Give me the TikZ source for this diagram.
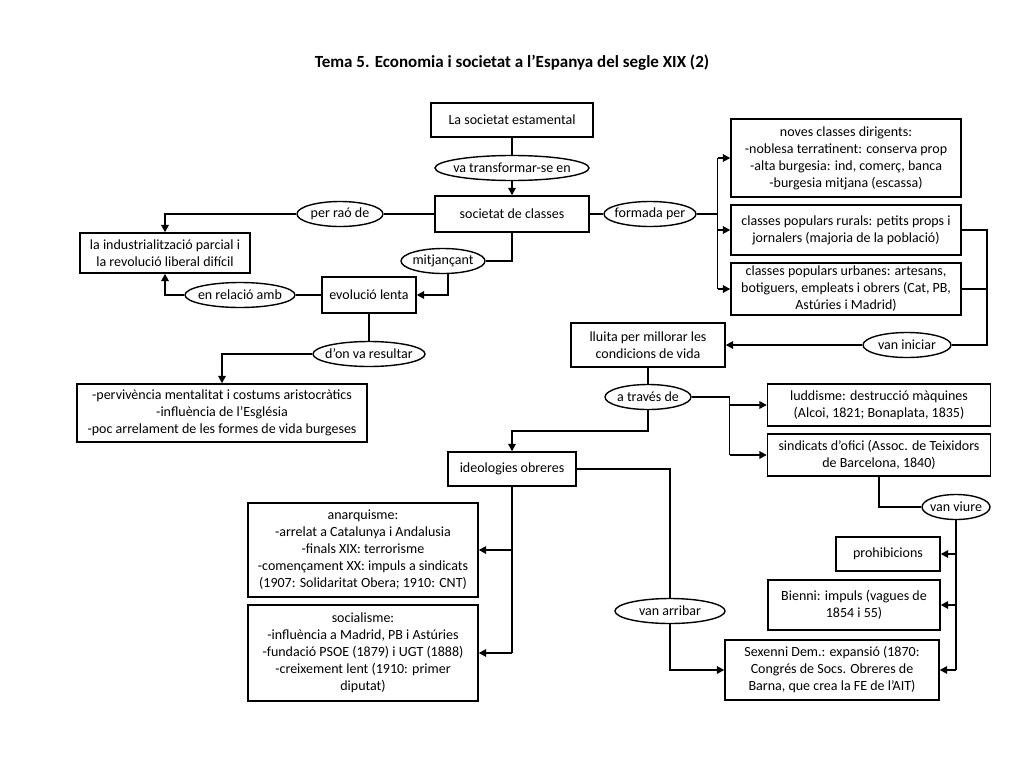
\documentclass[tikz,border=0pt]{standalone}
\usepackage{fontspec}
\setmainfont{Carlito}
\usetikzlibrary{shapes.geometric,arrows.meta}

\tikzset{
  box/.style={draw, line width=1.4pt, align=center, inner sep=2pt, font=\fontsize{14}{17}\selectfont},
  oval/.style={draw, ellipse, line width=1.4pt, inner xsep=-15pt, inner ysep=-3pt, minimum height=25pt, font=\fontsize{14}{17}\selectfont},
  link/.style={line width=1.4pt},
  arr/.style={line width=1.8pt, -{Triangle[length=7.5pt,width=7.5pt]}}
}

\begin{document}
\begin{tikzpicture}[x=1pt,y=-1pt]
\useasboundingbox (0,0) rectangle (1024,768);
\node[font=\fontsize{17}{20}\selectfont\bfseries] (title) at (512,63) {Tema 5. Economia i societat a l’Espanya del segle XIX (2)};

% left half
\node[box, minimum width=162pt, minimum height=34pt] (estamental) at (512,120) {La societat estamental};
\node[oval, minimum width=154pt] (transf) at (512,168) {va transformar-se en};
\node[box, minimum width=154pt, minimum height=36pt] (classes) at (512,214) {societat de classes};
\node[oval, minimum width=86pt] (perrao) at (340,214) {per raó de};
\node[box, minimum width=170pt, minimum height=40pt] (industria) at (165,253) {la industrialització parcial i\\la revolució liberal difícil};
\node[oval, minimum width=84pt] (mitjancant) at (443,261) {mitjançant};
\node[box, minimum width=94pt, minimum height=36pt] (evolucio) at (369,295) {evolució lenta};
\node[oval, minimum width=110pt] (relacio) at (240,295) {en relació amb};
\node[oval, minimum width=112pt] (donva) at (369,354) {d’on va resultar};
\node[box, minimum width=290pt, minimum height=58pt] (pervivencia) at (222,413) {-pervivència mentalitat i costums aristocràtics\\-influència de l’Església\\-poc arrelament de les formes de vida burgeses};

% right half
\node[oval, minimum width=92pt] (formada) at (650,214) {formada per};
\node[box, minimum width=230pt, minimum height=78pt] (noves) at (846,158) {noves classes dirigents:\\-noblesa terratinent: conserva prop\\-alta burgesia: ind, comerç, banca\\-burgesia mitjana (escassa)};
\node[box, minimum width=230pt, minimum height=50pt] (rurals) at (846,230) {classes populars rurals: petits props i\\jornalers (majoria de la població)};
\node[box, minimum width=230pt, minimum height=52pt] (urbanes) at (846,289) {classes populars urbanes: artesans,\\botiguers, empleats i obrers (Cat, PB,\\Astúries i Madrid)};
\node[oval, minimum width=88pt] (iniciar) at (907,345) {van iniciar};
\node[box, minimum width=154pt, minimum height=44pt] (lluita) at (648,345) {lluita per millorar les\\condicions de vida};
\node[oval, minimum width=86pt] (traves) at (648,397) {a través de};
\node[box, minimum width=223pt, minimum height=42pt] (luddisme) at (879,405) {luddisme: destrucció màquines\\(Alcoi, 1821; Bonaplata, 1835)};
\node[box, minimum width=223pt, minimum height=42pt] (sindicats) at (879,455) {sindicats d’ofici (Assoc. de Teixidors\\de Barcelona, 1840)};
\node[oval, minimum width=68pt] (viure) at (956,507) {van viure};
\node[box, minimum width=104pt, minimum height=34pt] (prohib) at (888,554) {prohibicions};
\node[box, minimum width=172pt, minimum height=50pt] (bienni) at (854,605) {Bienni: impuls (vagues de\\1854 i 55)};
\node[box, minimum width=214pt, minimum height=60pt] (sexenni) at (832,670) {Sexenni Dem.: expansió (1870:\\Congrés de Socs. Obreres de\\Barna, que crea la FE de l’AIT)};
\node[box, minimum width=128pt, minimum height=34pt] (ideologies) at (512,469) {ideologies obreres};
\node[box, minimum width=230pt, minimum height=94pt] (anarquisme) at (363,550) {anarquisme:\\-arrelat a Catalunya i Andalusia\\-finals XIX: terrorisme\\-començament XX: impuls a sindicats\\(1907: Solidaritat Obera; 1910: CNT)};
\node[box, minimum width=230pt, minimum height=96pt] (socialisme) at (363,653) {socialisme:\\-influència a Madrid, PB i Astúries\\-fundació PSOE (1879) i UGT (1888)\\-creixement lent (1910: primer\\diputat)};
\node[oval, minimum width=110pt] (arribar) at (670,611) {van arribar};

\coordinate (iniright) at (987,345);
\coordinate (idtop) at (512,431);

% connectors
\draw[link] (estamental) -- (transf);
\draw[arr] (transf) -- (classes);
\draw[link] (classes) -- (perrao);
\draw[arr] (perrao.west) -| (industria.north);
\draw[link] (classes.south) |- (mitjancant.east);
\draw[arr] ([xshift=5pt]mitjancant.south) |- (evolucio.east);
\draw[link] (evolucio) -- (relacio);
\draw[arr] (relacio.west) -| (industria.south);
\draw[link] (evolucio) -- (donva);
\draw[arr] (donva.west) -| (pervivencia.north);

\draw[link] (classes) -- (formada);
\draw[link] (formada.east) -- ++(21,0) coordinate (fspine);
\draw[link] (fspine |- noves.west) -- (fspine |- urbanes.west);
\draw[arr] (fspine |- noves.west) -- (noves.west);
\draw[arr] (fspine |- rurals.west) -- (rurals.west);
\draw[arr] (fspine |- urbanes.west) -- (urbanes.west);

\draw[link] (rurals.east) -| (iniright) -- (iniciar.east);
\draw[link] (urbanes.east) -- (urbanes.east -| iniright);
\draw[arr] (iniciar) -- (lluita);
\draw[link] (lluita) -- (traves);

\draw[link] (traves.east) -- ++(38,0) coordinate (tspine);
\draw[link] (tspine) -- (tspine |- sindicats.west);
\draw[arr] (tspine |- luddisme.west) -- (luddisme.west);
\draw[arr] (tspine |- sindicats.west) -- (sindicats.west);
\draw[link] (sindicats.south) |- (viure.west);
\draw[link] (viure.south) -- (viure.south |- sexenni.east);
\draw[arr] (viure.south |- prohib.east) -- (prohib.east);
\draw[arr] (viure.south |- bienni.east) -- (bienni.east);
\draw[arr] (viure.south |- sexenni.east) -- (sexenni.east);

\draw[arr] (traves.south) |- (idtop) -- (ideologies.north);
\draw[link] (ideologies.south) -- (ideologies.south |- socialisme.east);
\draw[arr] (ideologies.south |- anarquisme.east) -- (anarquisme.east);
\draw[arr] (ideologies.south |- socialisme.east) -- (socialisme.east);
\draw[link] (ideologies.east) -| (arribar.north);
\draw[arr] (arribar.south) |- (sexenni.west);
\end{tikzpicture}
\end{document}
